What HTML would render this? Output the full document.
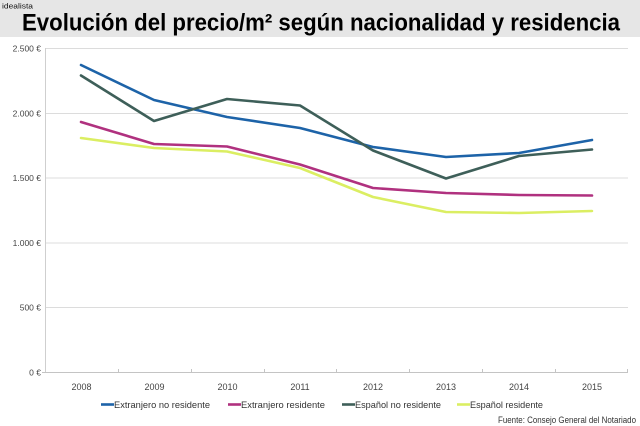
<!DOCTYPE html>
<html>
<head>
<meta charset="utf-8">
<style>
html,body{margin:0;padding:0;background:#fff;}
svg{display:block;}
text{font-family:"Liberation Sans",sans-serif;}
</style>
</head>
<body>
<svg width="640" height="426" viewBox="0 0 640 426" xmlns="http://www.w3.org/2000/svg">
  <rect x="0" y="0" width="640" height="426" fill="#ffffff"/>
  <rect x="0" y="0" width="640" height="37" fill="#e6e6e6"/>
  <text x="2" y="8.5" font-size="7" fill="#111" textLength="31" lengthAdjust="spacingAndGlyphs">idealista</text>
  <text x="22" y="30.5" font-size="24" font-weight="bold" fill="#000" textLength="598" lengthAdjust="spacingAndGlyphs">Evolución del precio/m² según nacionalidad y residencia</text>

  <!-- gridlines -->
  <g stroke="#dcdcdc" stroke-width="1">
    <line x1="45" y1="48.5" x2="628" y2="48.5"/>
    <line x1="45" y1="113.5" x2="628" y2="113.5"/>
    <line x1="45" y1="178" x2="628" y2="178"/>
    <line x1="45" y1="243" x2="628" y2="243"/>
    <line x1="45" y1="307.5" x2="628" y2="307.5"/>
  </g>
  <line x1="45.5" y1="48" x2="45.5" y2="373" stroke="#cfcfcf" stroke-width="1"/>
  <line x1="42" y1="372.5" x2="628" y2="372.5" stroke="#c4c4c4" stroke-width="1"/>
  <g stroke="#c4c4c4" stroke-width="1">
    <line x1="118.5" y1="369" x2="118.5" y2="373"/>
    <line x1="191.5" y1="369" x2="191.5" y2="373"/>
    <line x1="264.5" y1="369" x2="264.5" y2="373"/>
    <line x1="336.5" y1="369" x2="336.5" y2="373"/>
    <line x1="409.5" y1="369" x2="409.5" y2="373"/>
    <line x1="482.5" y1="369" x2="482.5" y2="373"/>
    <line x1="555.5" y1="369" x2="555.5" y2="373"/>
    <line x1="627.5" y1="369" x2="627.5" y2="373"/>
  </g>

  <!-- y labels -->
  <g font-size="8.5" fill="#444" text-anchor="end">
    <text x="41" y="51.5">2.500 €</text>
    <text x="41" y="116.5">2.000 €</text>
    <text x="41" y="181">1.500 €</text>
    <text x="41" y="246">1.000 €</text>
    <text x="41" y="310.5">500 €</text>
    <text x="41" y="375.5">0 €</text>
  </g>

  <!-- x labels -->
  <g font-size="9" fill="#444" text-anchor="middle">
    <text x="81.5" y="390">2008</text>
    <text x="154.5" y="390">2009</text>
    <text x="227.5" y="390">2010</text>
    <text x="300" y="390">2011</text>
    <text x="373" y="390">2012</text>
    <text x="446" y="390">2013</text>
    <text x="519" y="390">2014</text>
    <text x="592" y="390">2015</text>
  </g>

  <!-- series -->
  <g fill="none" stroke-width="2.6" stroke-linejoin="round" stroke-linecap="round">
    <polyline stroke="#1d63a8" points="81,65 154,100 227,117 300,128 373,147 446,157 519,153 592,140"/>
    <polyline stroke="#b0317f" points="81,122 154,144 227,146.5 300,164.5 373,188 446,193 519,195 592,195.5"/>
    <polyline stroke="#3e5f59" points="81,75.5 154,121 227,99 300,105.5 373,150.5 446,178.5 519,156 592,149.5"/>
    <polyline stroke="#dbee62" points="81,138 154,148 227,151.5 300,168 373,197 446,212 519,213 592,211"/>
  </g>

  <!-- legend -->
  <g stroke-width="2.6">
    <line x1="101" y1="404.5" x2="114" y2="404.5" stroke="#1d63a8"/>
    <line x1="228" y1="404.5" x2="241" y2="404.5" stroke="#b0317f"/>
    <line x1="342" y1="404.5" x2="355" y2="404.5" stroke="#3e5f59"/>
    <line x1="457" y1="404.5" x2="470" y2="404.5" stroke="#dbee62"/>
  </g>
  <g font-size="9.5" fill="#333">
    <text x="114" y="408" textLength="96" lengthAdjust="spacingAndGlyphs">Extranjero no residente</text>
    <text x="241" y="408" textLength="84" lengthAdjust="spacingAndGlyphs">Extranjero residente</text>
    <text x="355" y="408" textLength="86" lengthAdjust="spacingAndGlyphs">Español no residente</text>
    <text x="470" y="408" textLength="73" lengthAdjust="spacingAndGlyphs">Español residente</text>
  </g>
  <text x="498" y="423" font-size="9" fill="#333" textLength="138" lengthAdjust="spacingAndGlyphs">Fuente: Consejo General del Notariado</text>
</svg>
</body>
</html>
